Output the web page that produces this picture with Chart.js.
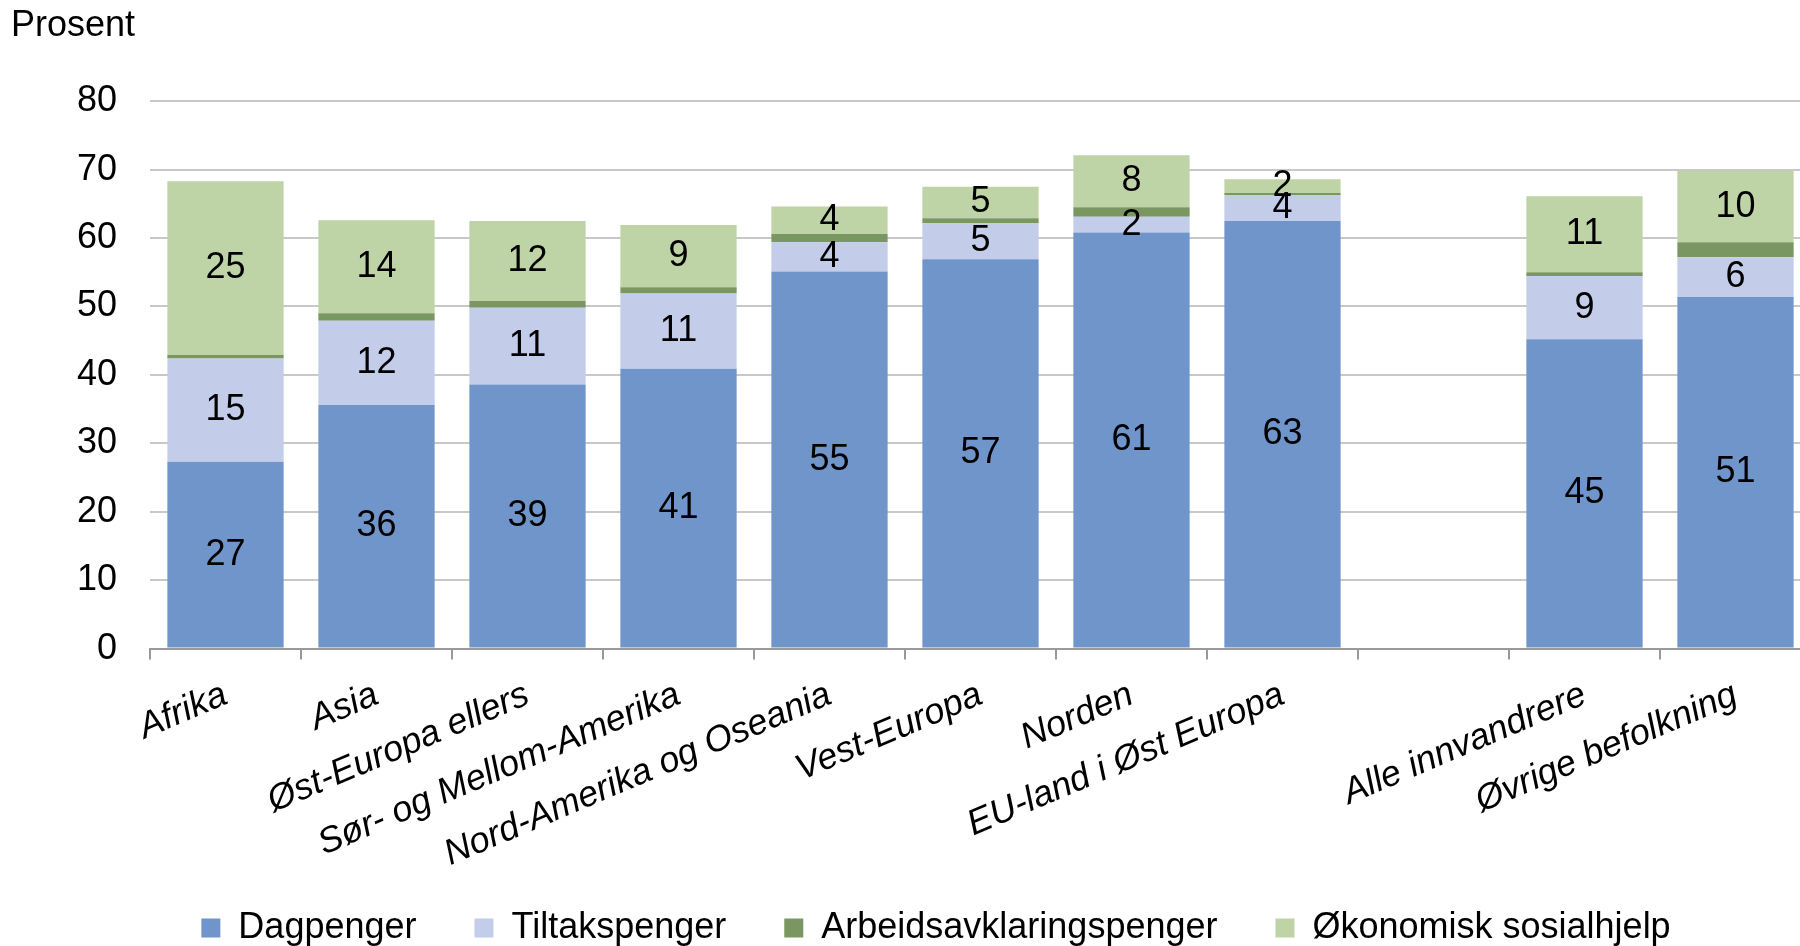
<!DOCTYPE html>
<html>
<head>
<meta charset="utf-8">
<script src="https://cdn.jsdelivr.net/npm/chart.js@4.4.0/dist/chart.umd.min.js"></script>
<style>
  html, body { margin: 0; padding: 0; background: #fff; overflow: hidden; }
  #wrap { width: 1811px; height: 946px; }
</style>
</head>
<body>
<div id="wrap"><canvas id="chart"></canvas></div>
<script>
// categories (the empty one is the gap in the original)
const categories = ['Afrika', 'Asia', 'Øst-Europa ellers', 'Sør- og Mellom-Amerika', 'Nord-Amerika og Oseania',
    'Vest-Europa', 'Norden', 'EU-land i Øst Europa', '', 'Alle innvandrere', 'Øvrige befolkning'];

const dagpenger     = [27.3, 35.6, 38.6, 40.9, 55.1, 56.9, 60.8, 62.5, null, 45.2, 51.4];
const tiltakspenger = [15.1, 12.3, 11.2, 11.0, 4.3, 5.3, 2.3, 3.8, null, 9.2, 5.8];
const arbeidsavkl   = [0.5, 1.1, 1.0, 0.9, 1.2, 0.7, 1.4, 0.3, null, 0.6, 2.2];
const sosialhjelp   = [25.4, 13.6, 11.7, 9.1, 4.0, 4.6, 7.6, 2.0, null, 11.1, 10.4];

const yTicks = [0, 10, 20, 30, 40, 50, 60, 70, 80];

const FONT = '"Liberation Sans", Arial, sans-serif';
const FS = 36;

// labels inside the segments
const segmentLabels = {
    id: 'segmentLabels',
    afterDatasetsDraw(chart) {
        const { ctx } = chart;
        ctx.save();
        ctx.font = FS + 'px ' + FONT;
        ctx.fillStyle = '#000';
        ctx.textAlign = 'center';
        ctx.textBaseline = 'middle';
        chart.data.datasets.forEach((ds, i) => {
            if (!ds.showLabels) return;
            chart.getDatasetMeta(i).data.forEach((bar, j) => {
                const v = ds.data[j];
                if (v == null) return;
                ctx.fillText(Math.round(v), bar.x, (bar.y + bar.base) / 2);
            });
        });
        ctx.restore();
    }
};

// legend takes less room than Chart.js wants, and sits a bit to the right
const LEGEND_SQUEEZE = 38;
const legendTweak = {
    id: 'legendTweak',
    beforeLayout(chart) {
        const lg = chart.legend;
        if (!lg || lg._tweaked) return;
        const fit = lg.fit;
        lg.fit = function (...args) {
            fit.apply(this, args);
            this.height -= LEGEND_SQUEEZE;
        };
        const draw = lg.draw;
        lg.draw = function (...args) {
            const top = this.top;
            this.top = top - LEGEND_SQUEEZE;
            this.ctx.save();
            this.ctx.translate(25, 0);
            draw.apply(this, args);
            this.ctx.restore();
            this.top = top;
        };
        lg._tweaked = true;
    }
};

new Chart(document.getElementById('chart'), {
    type: 'bar',
    data: {
        labels: categories,
        datasets: [
            { label: 'Dagpenger', data: dagpenger, backgroundColor: '#6f95ca', showLabels: true },
            { label: 'Tiltakspenger', data: tiltakspenger, backgroundColor: '#c3cce8', showLabels: true },
            { label: 'Arbeidsavklaringspenger', data: arbeidsavkl, backgroundColor: '#7a9761', showLabels: false },
            { label: 'Økonomisk sosialhjelp', data: sosialhjelp, backgroundColor: '#bfd4a6', showLabels: true }
        ]
    },
    options: {
        responsive: true,
        maintainAspectRatio: false,
        animation: false,
        barPercentage: 0.77,
        categoryPercentage: 1,
        layout: { padding: { left: 11, right: 0, top: 0, bottom: -10 } },
        plugins: {
            title: {
                display: true,
                text: 'Prosent',
                align: 'start',
                color: '#000',
                font: { family: FONT, size: FS, weight: 'normal' },
                padding: { top: 4, bottom: 54 }
            },
            legend: {
                position: 'bottom',
                labels: {
                    boxWidth: 19,
                    boxHeight: 19,
                    padding: 58,
                    color: '#000',
                    font: { family: FONT, size: FS }
                }
            },
            tooltip: { enabled: false }
        },
        scales: {
            x: {
                stacked: true,
                grid: { drawOnChartArea: false, color: '#999', tickLength: 11, lineWidth: 2 },
                border: { color: '#999', width: 2 },
                ticks: {
                    color: '#000',
                    minRotation: 23,
                    maxRotation: 23,
                    autoSkip: false,
                    padding: 14,
                    font: { family: FONT, size: FS, style: 'italic' }
                }
            },
            y: {
                stacked: true,
                min: 0,
                max: 80,
                afterBuildTicks(axis) { axis.ticks = yTicks.map(v => ({ value: v })); },
                afterFit(axis) { axis.width = 139; },
                grid: { color: '#c8c8c8', lineWidth: 2, drawTicks: false },
                border: { display: false },
                ticks: {
                    color: '#000',
                    padding: 33,
                    font: { family: FONT, size: FS }
                }
            }
        }
    },
    plugins: [segmentLabels, legendTweak]
});
</script>
</body>
</html>
